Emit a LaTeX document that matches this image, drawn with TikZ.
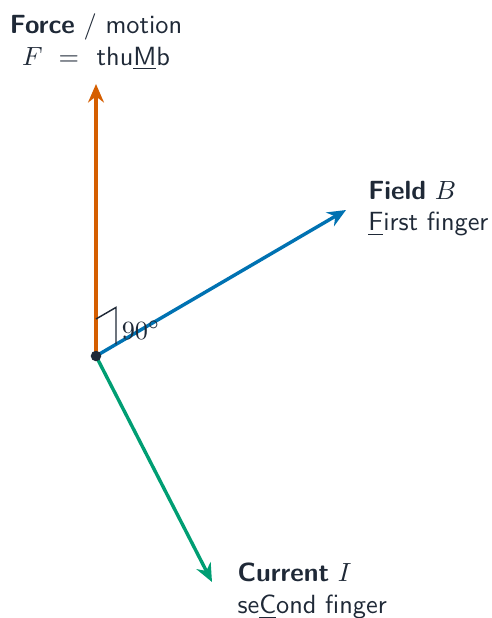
\documentclass[tikz,border=0pt]{standalone}
\usetikzlibrary{arrows.meta,positioning}

\definecolor{ink}{HTML}{1F2937}
\definecolor{forcecol}{HTML}{D55E00}
\definecolor{fieldcol}{HTML}{0072B2}
\definecolor{currentcol}{HTML}{009E73}

\begin{document}
\begin{tikzpicture}[
  x=0.38pt,
  y=-0.38pt,
  >=Stealth,
  every node/.style={font=\sffamily, text=ink},
  vec/.style={
    -{Stealth[length=7pt,width=6pt]},
    line width=1.3pt
  },
  lbl/.style={
    align=left,
    inner sep=0pt
  }
]
  \useasboundingbox (0,0) rectangle (492,618);

  \coordinate (origin) at (96,356);
  \coordinate (forcetip) at (96,84);
  \coordinate (fieldtip) at (346,210);
  \coordinate (currenttip) at (212,582);

  \draw[vec,forcecol] (origin) -- (forcetip);
  \draw[vec,fieldcol] (origin) -- (fieldtip);
  \draw[vec,currentcol] (origin) -- (currenttip);

  % right-angle mark
  \draw[ink,line width=0.55pt] (origin) ++(0,-37) -- ++(20,-11.6) -- ++(0,37);
  \node[text=ink,font=\normalfont] (rightangle) at (141,330) {$90^\circ$};

  \fill[ink] (origin) circle (2pt);

  \node[align=center,inner sep=0pt,above=5pt of forcetip.north,anchor=south] (forcelbl)
    {\textbf{Force} / motion\\ $F\ =\ $ thu\underline{M}b};
  \node[lbl,right=8.3pt of fieldtip,anchor=west,yshift=0.6pt] (fieldlbl)
    {\textbf{Field} $B$\\ \underline{F}irst finger};
  \node[lbl,right=9.5pt of currenttip,anchor=west,yshift=-3.4pt] (currentlbl)
    {\textbf{Current} $I$\\ se\underline{C}ond finger};
\end{tikzpicture}
\end{document}
